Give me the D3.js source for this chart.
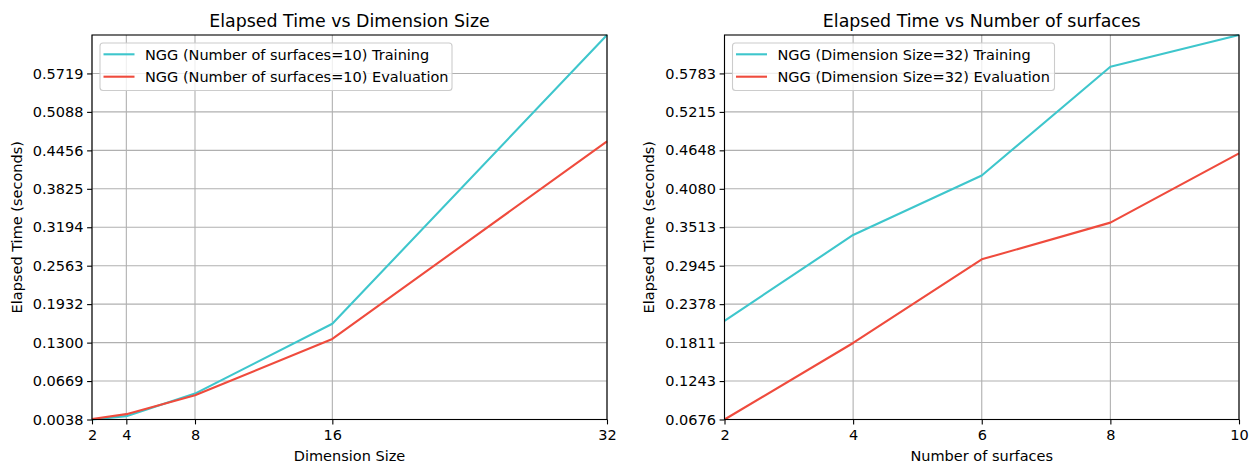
<!DOCTYPE html>
<html>
<head>
<meta charset="utf-8">
<script src="https://cdn.jsdelivr.net/npm/d3@7/dist/d3.min.js"></script>
<style>
  html, body { margin: 0; padding: 0; background: #fff; }
  svg { display: block; font-family: "DejaVu Sans", sans-serif; }
</style>
</head>
<body>
<svg id="chart" width="1258" height="464"></svg>
<script>
// Left panel: elapsed time against dimension size (number of surfaces = 10)
const dimSizes = [2, 4, 8, 16, 32];
const dimTraining = [0.0038, 0.0093, 0.0463, 0.1609, 0.6350];
const dimEvaluation = [0.0045, 0.0126, 0.0435, 0.1361, 0.4604];
const dimYTicks = [0.0038, 0.0669, 0.1300, 0.1932, 0.2563, 0.3194, 0.3825, 0.4456, 0.5088, 0.5719];

// Right panel: elapsed time against number of surfaces (dimension size = 32)
const surfCounts = [2, 4, 6, 8, 10];
const surfTraining = [0.2131, 0.3399, 0.4276, 0.5881, 0.6350];
const surfEvaluation = [0.0676, 0.1805, 0.3039, 0.3581, 0.4604];
const surfYTicks = [0.0676, 0.1243, 0.1811, 0.2378, 0.2945, 0.3513, 0.4080, 0.4648, 0.5215, 0.5783];

const COLOR_TRAIN = "#3ec6cc";
const COLOR_EVAL = "#ef4b3d";
const FONT = "14.5px";
const TITLE_FONT = "17.4px";

const svg = d3.select("#chart");

function drawPanel(cfg) {
  const { left, right, top, bottom } = cfg;
  const x = d3.scaleLinear().domain(d3.extent(cfg.xs)).range([left, right]);
  const y = d3.scaleLinear().domain(cfg.yDomain).range([bottom, top]);
  const g = svg.append("g");

  // grid lines
  g.append("g").selectAll("line").data(cfg.xs).join("line")
    .attr("x1", d => x(d)).attr("x2", d => x(d))
    .attr("y1", top).attr("y2", bottom)
    .attr("stroke", "#b0b0b0").attr("stroke-width", 1.1);
  g.append("g").selectAll("line").data(cfg.yTicks).join("line")
    .attr("x1", left).attr("x2", right)
    .attr("y1", d => y(d)).attr("y2", d => y(d))
    .attr("stroke", "#b0b0b0").attr("stroke-width", 1.1);

  // series lines
  const line = d3.line().x(d => x(d[0])).y(d => y(d[1]));
  cfg.series.forEach(s => {
    g.append("path")
      .datum(cfg.xs.map((v, i) => [v, s.values[i]]))
      .attr("d", line)
      .attr("fill", "none")
      .attr("stroke", s.color)
      .attr("stroke-width", 2.1)
      .attr("stroke-linejoin", "round");
  });

  // axes
  const xAxis = d3.axisBottom(x).tickValues(cfg.xs).tickFormat(d3.format("d"))
    .tickSize(4.9).tickPadding(5);
  const yAxis = d3.axisLeft(y).tickValues(cfg.yTicks).tickFormat(d3.format(".4f"))
    .tickSize(4.9).tickPadding(3.6);
  const gx = g.append("g").attr("transform", `translate(0,${bottom})`).call(xAxis);
  const gy = g.append("g").attr("transform", `translate(${left},0)`).call(yAxis);
  [gx, gy].forEach(a => {
    a.select(".domain").remove();
    a.selectAll(".tick line").attr("stroke", "#000").attr("stroke-width", 1.1);
    a.selectAll(".tick text").attr("fill", "#000")
      .style("font-family", "DejaVu Sans").style("font-size", FONT);
  });

  // frame
  g.append("rect")
    .attr("x", left).attr("y", top)
    .attr("width", right - left).attr("height", bottom - top)
    .attr("fill", "none").attr("stroke", "#000").attr("stroke-width", 1.1);

  // title and axis labels
  const cx = (left + right) / 2;
  g.append("text").attr("x", cx).attr("y", 27).attr("text-anchor", "middle")
    .style("font-size", TITLE_FONT).attr("fill", "#000").text(cfg.title);
  g.append("text").attr("x", cx).attr("y", 460.5).attr("text-anchor", "middle")
    .style("font-size", FONT).attr("fill", "#000").text(cfg.xLabel);
  g.append("text")
    .attr("transform", `translate(${cfg.yLabelX},${(top + bottom) / 2}) rotate(-90)`)
    .attr("text-anchor", "middle")
    .style("font-size", FONT).attr("fill", "#000").text(cfg.yLabel);

  // legend
  const lg = g.append("g");
  const lx = left + 8, ly = top + 8;
  lg.append("rect")
    .attr("x", lx).attr("y", ly).attr("width", cfg.legendWidth).attr("height", 47.5)
    .attr("rx", 3).attr("ry", 3)
    .attr("fill", "#fff").attr("fill-opacity", 0.8)
    .attr("stroke", "#cccccc").attr("stroke-width", 1.1);
  cfg.series.forEach((s, i) => {
    const yy = ly + 11.3 + i * 22.4;
    lg.append("line")
      .attr("x1", lx + 3.5).attr("x2", lx + 34.5)
      .attr("y1", yy).attr("y2", yy)
      .attr("stroke", s.color).attr("stroke-width", 2.1);
    lg.append("text")
      .attr("x", lx + 45).attr("y", yy).attr("dy", "0.36em")
      .style("font-size", FONT).attr("fill", "#000").text(s.label);
  });
}

drawPanel({
  left: 92, right: 607, top: 35, bottom: 419.5,
  xs: dimSizes,
  yDomain: [0.0038, 0.6350],
  yTicks: dimYTicks,
  series: [
    { values: dimTraining, color: COLOR_TRAIN, label: "NGG (Number of surfaces=10) Training" },
    { values: dimEvaluation, color: COLOR_EVAL, label: "NGG (Number of surfaces=10) Evaluation" }
  ],
  title: "Elapsed Time vs Dimension Size",
  xLabel: "Dimension Size",
  yLabel: "Elapsed Time (seconds)",
  yLabelX: 22,
  legendWidth: 352
});

drawPanel({
  left: 724.5, right: 1239, top: 35, bottom: 419.5,
  xs: surfCounts,
  yDomain: [0.06757, 0.6350],
  yTicks: surfYTicks,
  series: [
    { values: surfTraining, color: COLOR_TRAIN, label: "NGG (Dimension Size=32) Training" },
    { values: surfEvaluation, color: COLOR_EVAL, label: "NGG (Dimension Size=32) Evaluation" }
  ],
  title: "Elapsed Time vs Number of surfaces",
  xLabel: "Number of surfaces",
  yLabel: "Elapsed Time (seconds)",
  yLabelX: 654,
  legendWidth: 322
});
</script>
</body>
</html>
